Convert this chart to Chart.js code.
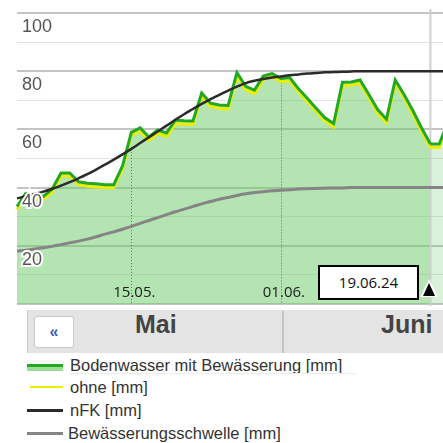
<!DOCTYPE html>
<html><head><meta charset="utf-8">
<script src="https://cdn.jsdelivr.net/npm/chart.js@4"></script>
<style>
html,body{margin:0;padding:0;background:#fff;overflow:hidden;width:443px;height:443px;}
#wrap{position:relative;width:443px;height:443px;overflow:hidden;}
#c{position:absolute;left:0;top:0;}
#datebox{position:absolute;left:318px;top:265px;width:97px;height:31px;border:2px solid #000;background:#fff;
  font:15px "Open Sans",sans-serif;color:#111;text-align:center;line-height:31px;box-sizing:content-box;}
#triw{position:absolute;left:420px;top:279px;width:0;height:0;border-left:9px solid transparent;border-right:9px solid transparent;border-bottom:18px solid #fff;}
#tri{position:absolute;left:423px;top:283px;width:0;height:0;border-left:6.5px solid transparent;border-right:6.5px solid transparent;border-bottom:13px solid #000;}
#nav{position:absolute;left:27px;top:310px;width:430px;height:43px;background:#e4e4e4;border-left:1px solid #c8c8c8;box-sizing:border-box;}
#btn{position:absolute;left:6px;top:6px;width:40px;height:32px;background:#fff;border:1px solid #c9c9c9;border-radius:3px;box-sizing:border-box;
  font:bold 16px "Liberation Sans",Arial,sans-serif;color:#2f62b8;text-align:center;line-height:30px;}
.mon{position:absolute;top:0;height:43px;line-height:43px;font:bold 25px "Liberation Sans",Arial,sans-serif;color:#444;}
#sep{position:absolute;left:254px;top:1px;width:2px;height:42px;background:#c4c4c4;}
#legend{position:absolute;left:0;top:354px;width:443px;}
.li{position:absolute;left:0;height:22px;width:443px;}
.sw{position:absolute;left:27px;width:36px;}
.lt{position:absolute;left:70px;top:0;font:16.5px "Liberation Sans",Arial,sans-serif;color:#333;line-height:22px;white-space:nowrap;}
</style></head><body>
<div id="wrap">
<canvas id="c" width="448" height="306"></canvas>
<div id="datebox">19.06.24</div>
<div id="triw"></div>
<div id="tri"></div>
<div id="nav">
  <div id="btn">«</div>
  <div class="mon" style="left:107px;">Mai</div>
  <div id="sep"></div>
  <div class="mon" style="left:353px;">Juni</div>
</div>
<div id="legend"></div>
</div>
<script>
const dates = ['02.05.','03.05.','04.05.','05.05.','06.05.','07.05.','08.05.','09.05.','10.05.','11.05.',
  '12.05.','13.05.','14.05.','15.05.','16.05.','17.05.','18.05.','19.05.','20.05.','21.05.',
  '22.05.','23.05.','24.05.','25.05.','26.05.','27.05.','28.05.','29.05.','30.05.','31.05.',
  '01.06.','02.06.','03.06.','04.06.','05.06.','06.06.','07.06.','08.06.','09.06.','10.06.',
  '11.06.','12.06.','13.06.','14.06.','15.06.','16.06.','17.06.','18.06.','19.06.','20.06.'];
const mitBewaesserung = [33.5,38,37.5,37,39.5,45,45,42,41.5,41.3,
  41,41,47.5,59,60.5,57.4,59.8,58.8,63.2,63,
  62.9,72.5,69,68.4,68.2,79.5,74.8,73.5,78.3,79.2,
  77.5,77.8,74,70.7,67.3,64,62,76.2,76.3,77,
  72,66.8,63.5,77,72,66.5,60.5,55,55,62.5];
const ohne = [32.5,37,36.3,36,38.5,44,44,41,40.5,40.2,
  40,40,46.5,58,59.3,56.3,58.6,57.6,62,61.8,
  61.7,71.4,67.9,67.2,67,78.4,73.6,72.3,77.2,78.1,
  76.4,76.7,72.9,69.6,66.2,62.9,60.8,75.1,75.2,75.9,
  70.9,65.6,62.3,75.9,70.9,65.3,59.3,53.8,53.8,61.3];
const nFK = [36.3,37,37.8,38.6,39.6,40.7,41.9,43.2,44.6,46.2,
  47.9,49.6,51.4,53.3,55.3,57.3,59.3,61.3,63.3,65.2,
  67,68.8,70.4,71.9,73.3,74.7,75.9,76.7,77.3,77.8,
  78.2,78.6,78.9,79.2,79.4,79.6,79.7,79.8,79.9,80,
  80,80,80,80,80,80,80,80,80,80];
const schwelle = [18.2,18.5,18.9,19.3,19.8,20.4,21,21.6,22.3,23.1,
  24,24.8,25.7,26.7,27.7,28.7,29.7,30.7,31.7,32.6,
  33.5,34.4,35.2,36,36.6,37.3,37.9,38.3,38.6,38.9,
  39.1,39.3,39.5,39.6,39.7,39.8,39.9,39.9,40,40,
  40,40,40,40,40,40,40,40,40,40];
const xTickLabels = ['15.05.','01.06.'];
const todayDate = '18.06.';
const seriesLabels = ['Bodenwasser mit Bewässerung [mm]','ohne [mm]','nFK [mm]','Bewässerungsschwelle [mm]'];
const seriesColors = ['#22a822','#eeee00','#2b2b2b','#858585'];

const todayIdx = dates.indexOf(todayDate);
const fillDark = 'rgba(105,201,101,0.5)';
const fillLight = 'rgba(105,201,101,0.25)';

const decor = {
  id: 'decor',
  beforeDatasetsDraw(chart) {
    const {ctx, chartArea, scales: {x, y}} = chart;
    ctx.save();
    const tx = x.getPixelForValue(todayIdx);
    ctx.strokeStyle = '#cfcfcf';
    ctx.lineWidth = 2;
    ctx.beginPath(); ctx.moveTo(tx, chartArea.top - 4); ctx.lineTo(tx, chartArea.bottom + 2); ctx.stroke();
    ctx.strokeStyle = '#6a6a6a';
    ctx.lineWidth = 1;
    ctx.setLineDash([1, 2]);
    xTickLabels.forEach(l => {
      const i = dates.indexOf(l);
      const px = Math.round(x.getPixelForValue(i)) + 0.5;
      ctx.beginPath(); ctx.moveTo(px, y.getPixelForValue(nFK[i])); ctx.lineTo(px, chartArea.bottom); ctx.stroke();
    });
    ctx.restore();
  },
  afterDatasetsDraw(chart) {
    const {ctx, chartArea, scales: {x}} = chart;
    ctx.save();
    ctx.font = '15px "Open Sans", sans-serif';
    ctx.fillStyle = '#222';
    ctx.textAlign = 'center';
    ctx.textBaseline = 'middle';
    xTickLabels.forEach(l => {
      const i = dates.indexOf(l);
      ctx.fillText(l, x.getPixelForValue(i) + 3, chartArea.bottom - 11);
    });
    ctx.restore();
  }
};

new Chart(document.getElementById('c'), {
  type: 'line',
  data: {
    labels: dates,
    datasets: [
      {label: seriesLabels[0], data: mitBewaesserung, borderColor: seriesColors[0], borderWidth: 3,
       fill: 'origin', backgroundColor: fillDark, pointRadius: 0, tension: 0, order: 1,
       segment: {backgroundColor: c => c.p0DataIndex >= todayIdx ? fillLight : fillDark}},
      {label: seriesLabels[1], data: ohne, borderColor: seriesColors[1], borderWidth: 3,
       fill: false, pointRadius: 0, tension: 0, order: 2},
      {label: seriesLabels[2], data: nFK, borderColor: seriesColors[2], borderWidth: 2.5,
       fill: false, pointRadius: 0, tension: 0.4, order: 0},
      {label: seriesLabels[3], data: schwelle, borderColor: seriesColors[3], borderWidth: 3,
       fill: false, pointRadius: 0, tension: 0.4, order: 3}
    ]
  },
  options: {
    responsive: false,
    animation: false,
    layout: {padding: {left: 17, top: 13, right: 0, bottom: 2}},
    plugins: {legend: {display: false}, tooltip: {enabled: false}, filler: {drawTime: 'beforeDatasetsDraw'}},
    scales: {
      x: {type: 'category', display: false, offset: false},
      y: {
        min: 0, max: 100,
        afterFit(s) { s.width = 0; s.paddingTop = 0; s.paddingBottom = 0; },
        border: {display: false},
        grid: {drawTicks: false,
          color: c => (c.tick && c.tick.value % 20 === 0) ? '#c4c4c4' : '#e2e2e2',
          lineWidth: c => (c.tick && c.tick.value % 20 === 0) ? 2 : 1},
        ticks: {z: 1, stepSize: 10, mirror: true, padding: 5, labelOffset: 14, autoSkip: false,
          font: {family: '"Liberation Sans", Arial, sans-serif', size: 18},
          color: '#555', textStrokeColor: '#fff', textStrokeWidth: 4,
          callback: v => (v % 20 === 0 && v > 0) ? String(v) : ''}
      }
    }
  },
  plugins: [decor]
});

const lg = document.getElementById('legend');
const rowsTop = [0, 22, 45, 68];
seriesLabels.forEach((t, i) => {
  const d = document.createElement('div');
  d.className = 'li';
  d.style.top = rowsTop[i] + 'px';
  const sw = document.createElement('div');
  sw.className = 'sw';
  if (i === 0) { sw.style.top = '10px'; sw.style.height = '4px'; sw.style.borderTop = '3px solid ' + seriesColors[0]; sw.style.background = '#9edc9c'; }
  else if (i === 1) { sw.style.top = '10px'; sw.style.height = '2px'; sw.style.background = seriesColors[1]; sw.style.left = '30px'; sw.style.width = '33px'; }
  else { sw.style.top = '10px'; sw.style.height = '3px'; sw.style.background = seriesColors[i]; }
  const tx = document.createElement('div');
  tx.className = 'lt';
  if (i === 3) tx.style.left = '68px';
  tx.textContent = t;
  d.appendChild(sw); d.appendChild(tx);
  if (i === 0) { const u = document.createElement('div'); u.style.cssText = 'position:absolute;left:70px;top:19px;width:285px;height:1px;background:#ececec;'; d.appendChild(u); }
  lg.appendChild(d);
});
</script>
</body></html>
